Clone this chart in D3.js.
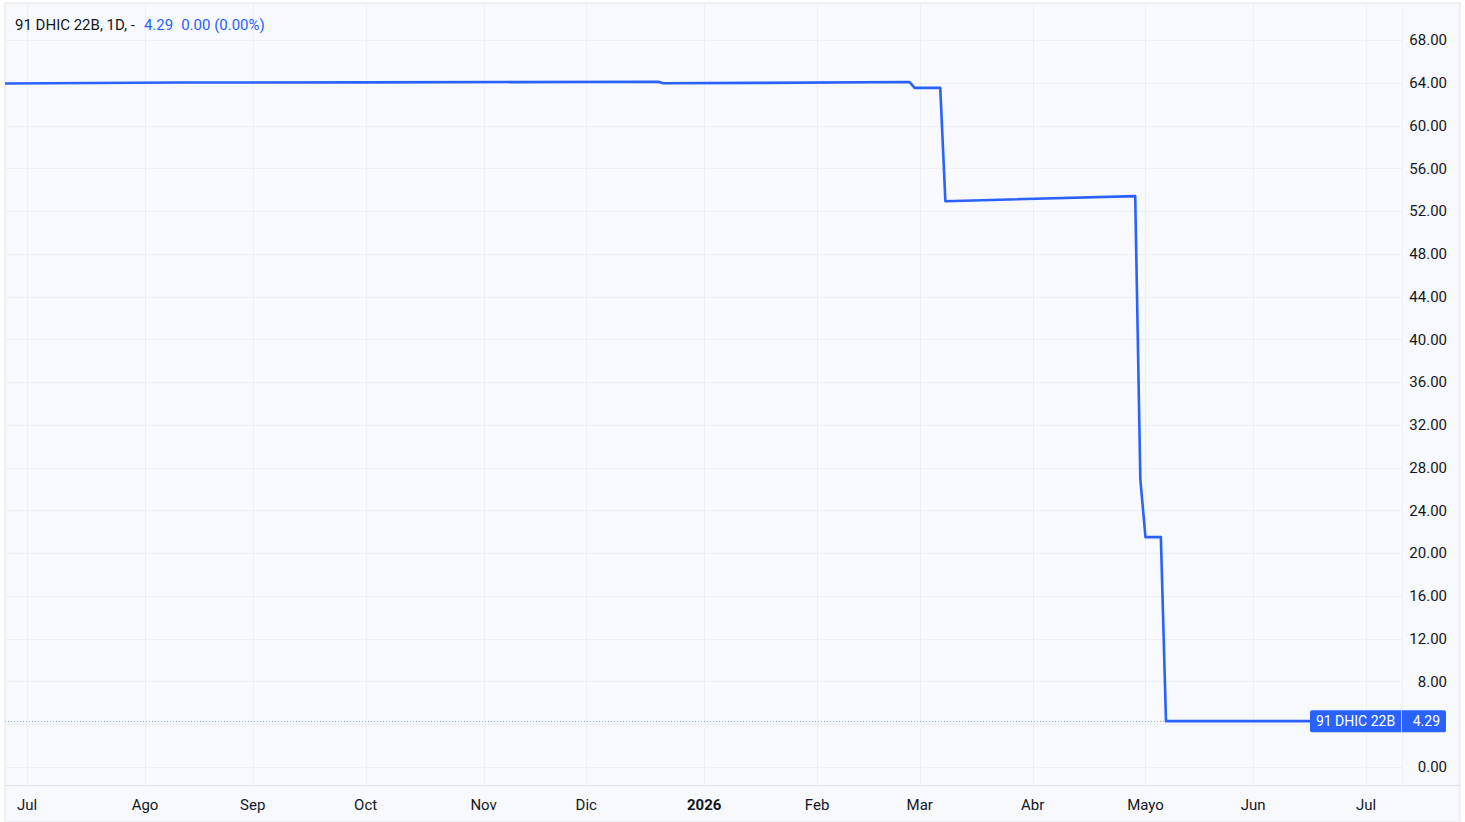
<!DOCTYPE html>
<html>
<head>
<meta charset="utf-8">
<script src="https://cdn.jsdelivr.net/npm/d3@7"></script>
<style>
  html, body { margin: 0; padding: 0; background: #fff; }
  svg { display: block; font-family: Roboto, "Noto Sans", sans-serif; }
</style>
</head>
<body>
<svg id="chart"></svg>
<script>
const symbol = '91 DHIC 22B';
const interval = '1D';
const lastPrice = 4.29;

// daily closes where the series changes
const dates = ['2025-06-20', '2025-08-12', '2025-10-01', '2025-12-19', '2025-12-22',
  '2026-01-15', '2026-02-26', '2026-02-27', '2026-03-06', '2026-03-09',
  '2026-04-29', '2026-04-30', '2026-05-01', '2026-05-06', '2026-05-07', '2026-06-19'];
const closes = [63.93, 64.02, 64.04, 64.09, 63.95,
  63.99, 64.07, 63.52, 63.52, 52.92,
  53.40, 26.9, 21.5, 21.5, 4.29, 4.29];

const monthStarts = ['2025-07-01', '2025-08-01', '2025-09-01', '2025-10-01', '2025-11-01',
  '2025-12-01', '2026-01-01', '2026-02-01', '2026-03-01', '2026-04-01', '2026-05-01',
  '2026-06-01', '2026-07-01'];
const monthLabels = ['Jul', 'Ago', 'Sep', 'Oct', 'Nov', 'Dic', '2026', 'Feb', 'Mar', 'Abr', 'Mayo', 'Jun', 'Jul'];
const priceTicks = d3.range(0, 69, 4);

const width = 1465, height = 822;
const panel = { left: 5, top: 3, right: 1460, bottom: 822 };
const plot = { left: 5, top: 3, right: 1402, bottom: 785 };
const blue = '#2962ff';
const fontSize = 15;

const parse = d3.utcParse('%Y-%m-%d');
const origin = parse('2025-07-01');

// bar index = weekdays counted from 1 Jul 2025
function barIndex(dateStr) {
  let d = parse(dateStr);
  while (d.getUTCDay() === 0 || d.getUTCDay() === 6) d = d3.utcDay.offset(d, 1);
  const a = d < origin ? d : origin, b = d < origin ? origin : d;
  const n = d3.utcDay.range(a, b).filter(x => x.getUTCDay() !== 0 && x.getUTCDay() !== 6).length;
  return d < origin ? -n : n;
}

const data = dates.map((d, i) => ({ i: barIndex(d), v: closes[i] }));

const x = d3.scaleLinear().domain([-4.29, 268]).range([plot.left, plot.right]);
const y = d3.scaleLinear().domain([0, 68]).range([767, 40]);

const svg = d3.select('#chart').attr('width', width).attr('height', height);

svg.append('rect').attr('width', width).attr('height', height).attr('fill', '#fff');
svg.append('rect')
  .attr('x', panel.left).attr('y', panel.top)
  .attr('width', panel.right - panel.left).attr('height', panel.bottom - panel.top)
  .attr('fill', '#f8f9fd').attr('stroke', '#e0e3eb').attr('stroke-width', 1);

// grid
svg.append('g').selectAll('line').data(priceTicks).join('line')
  .attr('x1', plot.left).attr('x2', plot.right)
  .attr('y1', d => Math.round(y(d)) + 0.5).attr('y2', d => Math.round(y(d)) + 0.5)
  .attr('stroke', '#eef0f6');

const ticks = monthStarts.map((d, k) => ({ i: barIndex(d), label: monthLabels[k] }));
svg.append('g').selectAll('line').data(ticks).join('line')
  .attr('x1', d => Math.round(x(d.i)) + 0.5).attr('x2', d => Math.round(x(d.i)) + 0.5)
  .attr('y1', plot.top).attr('y2', plot.bottom)
  .attr('stroke', '#eef0f6');

// axis borders
svg.append('line').attr('x1', panel.left).attr('x2', panel.right)
  .attr('y1', plot.bottom + 0.5).attr('y2', plot.bottom + 0.5).attr('stroke', '#e0e3eb');
svg.append('line').attr('x1', plot.right + 0.5).attr('x2', plot.right + 0.5)
  .attr('y1', panel.top).attr('y2', plot.bottom).attr('stroke', '#f0f2f7');

// price axis (labels hidden behind the last-price badge are skipped)
const ly = y(lastPrice);
svg.append('g').selectAll('text')
  .data(priceTicks.filter(d => Math.abs(y(d) - ly) > 14))
  .join('text')
  .attr('x', 1447).attr('y', d => y(d))
  .attr('dy', '0.35em').attr('text-anchor', 'end')
  .attr('font-size', fontSize).attr('fill', '#131722')
  .text(d3.format('.2f'));

// time axis
svg.append('g').selectAll('text').data(ticks).join('text')
  .attr('x', d => x(d.i)).attr('y', 805)
  .attr('dy', '0.35em').attr('text-anchor', 'middle')
  .attr('font-size', fontSize).attr('fill', '#131722')
  .attr('font-weight', d => d.label === '2026' ? 'bold' : 'normal')
  .text(d => d.label);

svg.append('clipPath').attr('id', 'clip').append('rect')
  .attr('x', plot.left).attr('y', plot.top)
  .attr('width', plot.right - plot.left).attr('height', plot.bottom - plot.top);

// last price dotted line
svg.append('line')
  .attr('x1', plot.left).attr('x2', plot.right)
  .attr('y1', Math.round(ly) + 0.5).attr('y2', Math.round(ly) + 0.5)
  .attr('stroke', blue).attr('stroke-opacity', 0.5)
  .attr('stroke-dasharray', '1,2');

const line = d3.line().x(d => x(d.i)).y(d => y(d.v));
svg.append('path')
  .datum(data)
  .attr('clip-path', 'url(#clip)')
  .attr('d', line)
  .attr('fill', 'none')
  .attr('stroke', blue)
  .attr('stroke-width', 2.6)
  .attr('stroke-linejoin', 'round');

// price label
const lbl = svg.append('g');
lbl.append('rect').attr('x', 1310).attr('y', ly - 11).attr('width', 136).attr('height', 22)
  .attr('rx', 2).attr('fill', blue);
lbl.append('line').attr('x1', 1401.5).attr('x2', 1401.5).attr('y1', ly - 11).attr('y2', ly + 11)
  .attr('stroke', '#fff').attr('stroke-opacity', 0.7);
lbl.append('text').attr('x', 1355.5).attr('y', ly).attr('dy', '0.35em')
  .attr('text-anchor', 'middle').attr('font-size', 14).attr('fill', '#fff').text(symbol);
lbl.append('text').attr('x', 1440).attr('y', ly).attr('dy', '0.35em')
  .attr('text-anchor', 'end').attr('font-size', 14).attr('fill', '#fff').text(d3.format('.2f')(lastPrice));

// legend
const title = svg.append('text').attr('x', 15).attr('y', 25).attr('dy', '0.35em').attr('font-size', fontSize);
title.append('tspan').attr('fill', '#131722').text(`${symbol}, ${interval}, -`);
title.append('tspan').attr('fill', blue).attr('dx', 9).text(d3.format('.2f')(lastPrice));
title.append('tspan').attr('fill', blue).attr('dx', 8).text('0.00 (0.00%)');
</script>
</body>
</html>
